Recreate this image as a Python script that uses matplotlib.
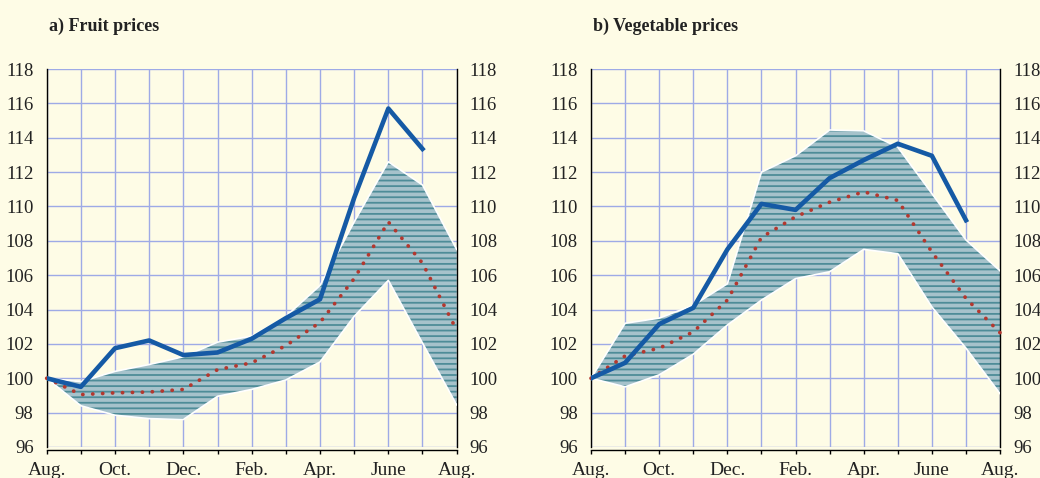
import matplotlib
matplotlib.use("Agg")
import matplotlib.pyplot as plt
import numpy as np

plt.rcParams['font.family'] = ['Liberation Serif', 'DejaVu Serif']
plt.rcParams['hatch.linewidth'] = 1.3

# months Aug .. Aug (13 points)
months = np.arange(13)
month_labels = ['Aug.', '', 'Oct.', '', 'Dec.', '', 'Feb.', '', 'Apr.', '', 'June', '', 'Aug.']

# a) fruit prices
fruit_actual = [100.0, 99.5, 101.75, 102.2, 101.35, 101.5, 102.3, 103.5, 104.6, 110.5, 115.7, 113.35]
fruit_upper = [100.0, 99.8, 100.4, 100.8, 101.25, 102.1, 102.45, 103.6, 105.4, 109.1, 112.6, 111.25, 107.5]
fruit_lower = [100.0, 98.4, 97.85, 97.65, 97.6, 98.95, 99.35, 99.9, 100.95, 103.6, 105.7, 102.05, 98.45]
fruit_mean = [100.0, 99.05, 99.15, 99.2, 99.35, 100.5, 100.9, 101.9, 103.25, 105.8, 109.1, 106.7, 102.8]

# b) vegetable prices
veg_actual = [100.0, 100.9, 103.15, 104.1, 107.5, 110.15, 109.8, 111.65, 112.7, 113.65, 112.95, 109.2]
veg_upper = [100.0, 103.2, 103.5, 104.25, 105.5, 112.0, 112.95, 114.45, 114.4, 113.45, 110.75, 108.05, 106.25]
veg_lower = [100.0, 99.5, 100.2, 101.4, 103.1, 104.55, 105.8, 106.2, 107.5, 107.25, 104.15, 101.75, 99.1]
veg_mean = [100.0, 101.3, 101.75, 102.7, 104.55, 108.2, 109.4, 110.25, 110.85, 110.35, 107.35, 104.65, 102.65]

titles = ['a) Fruit prices', 'b) Vegetable prices']

bg = '#fefce6'
grid_c = '#9eaae6'
band_c = '#a6c2cb'
hatch_c = '#4e8c98'
line_c = '#155aa5'
dot_c = '#b3382f'
text_c = '#222222'

fig = plt.figure(figsize=(10.4, 4.78), dpi=100, facecolor=bg)
rects = [[0.0449, 0.0649, 0.3942, 0.7907], [0.5683, 0.0649, 0.3933, 0.7907]]
panels = [(fruit_actual, fruit_upper, fruit_lower, fruit_mean),
          (veg_actual, veg_upper, veg_lower, veg_mean)]

for rect, (actual, upper, lower, mean), title in zip(rects, panels, titles):
    ax = fig.add_axes(rect, facecolor=bg)
    ax.set_xlim(0, 12)
    ax.set_ylim(96, 118)

    # band with horizontal hatching
    ax.fill_between(months, lower, upper, facecolor=band_c, edgecolor='none', zorder=2)
    ax.fill_between(months, lower, upper, facecolor='none', edgecolor=hatch_c,
                    hatch='---', linewidth=0, zorder=2)
    ax.plot(months, upper, color='white', lw=1.2, zorder=3)
    ax.plot(months, lower, color='white', lw=1.2, zorder=3)

    ax.plot(months, mean, color=dot_c, lw=2.7, linestyle=(0, (0.05, 2.6)),
            dash_capstyle='round', zorder=4, clip_on=False)
    ax.plot(months[:len(actual)], actual, color=line_c, lw=3.3, zorder=5)

    ax.set_xticks(months)
    ax.set_xticklabels(month_labels)
    ax.set_yticks(np.arange(96, 119, 2))
    ax.grid(True, color=grid_c, lw=1.0, zorder=1)
    ax.set_axisbelow(True)

    ax.tick_params(axis='y', which='both', left=False, right=False,
                   labelleft=True, labelright=True, labelsize=13.5,
                   labelcolor=text_c, pad=7)
    ax.tick_params(axis='y', which='both', pad=6, labelleft=False)
    ax.tick_params(axis='x', direction='out', length=3, width=1.0,
                   labelsize=14, labelcolor=text_c, pad=6, color='black')
    ax.xaxis.get_major_ticks()[5].tick1line.set_markersize(7)
    for t in ax.yaxis.get_major_ticks():
        t.label1.set_visible(True)

    ax.spines['top'].set_visible(False)
    for s in ['left', 'right']:
        ax.spines[s].set_color('black')
        ax.spines[s].set_linewidth(1.0)
    ax.spines['bottom'].set_color('black')
    ax.spines['bottom'].set_linewidth(1.0)
    ax.spines['bottom'].set_position(('outward', 2))

    fig.text(rect[0] + 0.002, 0.935, title, fontsize=13, fontweight='bold',
             color=text_c, ha='left', va='baseline')

fig.savefig('out.png', dpi=100, facecolor=bg)
